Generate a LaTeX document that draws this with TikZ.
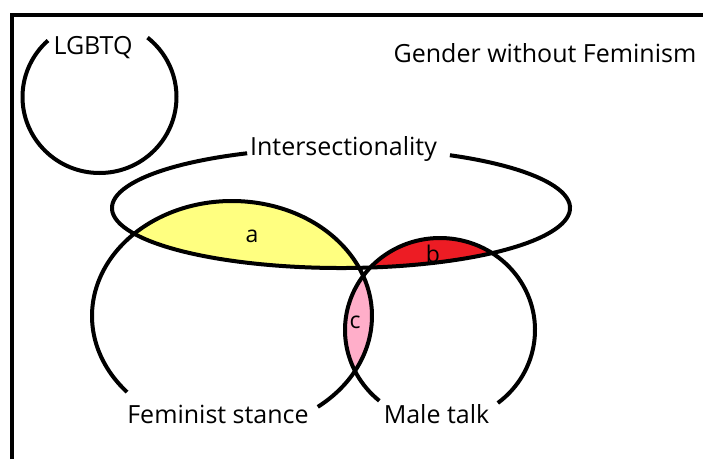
\documentclass[tikz,border=0pt]{standalone}
\usepackage{fontspec}
\setmainfont{Open Sans}
\begin{document}
\begin{tikzpicture}[x=1pt,y=1pt,
  outline/.style={line width=4pt,black},
  lbl/.style={font=\fontsize{25}{30}\selectfont,inner sep=0pt,anchor=base},
  small/.style={font=\fontsize{23}{28}\selectfont,inner sep=0pt,anchor=base}]
\useasboundingbox (0,0) rectangle (703,459);
\fill[white] (0,0) rectangle (703,459);
% centres
\coordinate (Fc) at (232,143);
\coordinate (Mc) at (440,129);
\coordinate (Ic) at (341,251);
\coordinate (Lc) at (99.5,362);
% fills
\definecolor{ylw}{RGB}{255,255,128}
\definecolor{rd}{RGB}{237,28,36}
\definecolor{pnk}{RGB}{255,174,201}
\begin{scope}
  \clip (Fc) ellipse [x radius=140pt, y radius=115pt];
  \fill[ylw] (Ic) ellipse [x radius=229pt, y radius=60pt];
\end{scope}
\begin{scope}
  \clip (Mc) ellipse [x radius=95pt, y radius=92pt];
  \fill[rd] (Ic) ellipse [x radius=229pt, y radius=60pt];
\end{scope}
\begin{scope}
  \clip (Fc) ellipse [x radius=140pt, y radius=115pt];
  \fill[pnk] (Mc) ellipse [x radius=95pt, y radius=92pt];
\end{scope}
\begin{scope}
  \clip (Fc) ellipse [x radius=140pt, y radius=115pt];
  \clip (Mc) ellipse [x radius=95pt, y radius=92pt];
  \fill[white] (Ic) ellipse [x radius=229pt, y radius=60pt];
\end{scope}
% frame
\coordinate (fb) at (12,0);
\coordinate (fc) at (12,444);
\coordinate (fr) at (703,444);
\draw[line width=4.3pt] (fb) -- (fc) -- (fr);
% outlines
\draw[outline] (Lc) ++(132:77pt and 76pt) arc[start angle=132, end angle=411.4, x radius=77pt, y radius=76pt];
\draw[outline] (Ic) ++(114.2:229pt and 60pt) arc[start angle=114.2, end angle=421.6, x radius=229pt, y radius=60pt];
\draw[outline] (Fc) ++(-52.2:140pt and 115pt) arc[start angle=-52.2, end angle=221.4, x radius=140pt, y radius=115pt];
\draw[outline] (Mc) ++(-52.5:95pt and 92pt) arc[start angle=-52.5, end angle=230.3, x radius=95pt, y radius=92pt];
% labels
\node[lbl] (lgbtq) at (93,404) {LGBTQ};
\node[lbl] (gwf) at (545,396) {Gender without Feminism};
\node[lbl] (inter) at (343.5,304) {Intersectionality};
\node[lbl] (fem) at (218,36) {Feminist stance};
\node[lbl] (male) at (436.5,36) {Male talk};
\node[small] (a) at (252,217) {a};
\node[small] (b) at (433,197) {b};
\node[small] (c) at (355,131) {c};
\end{tikzpicture}
\end{document}
